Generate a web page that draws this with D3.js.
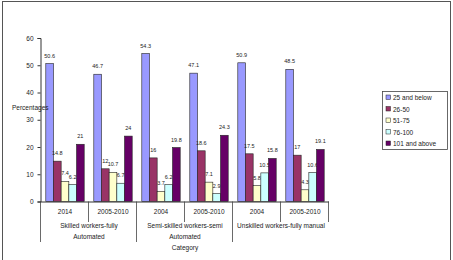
<!DOCTYPE html>
<html>
<head>
<meta charset="utf-8">
<script src="https://cdn.jsdelivr.net/npm/d3@7/dist/d3.min.js"></script>
<style>
  body { margin: 0; background: #fff; }
  text { font-family: "Liberation Sans", Arial, sans-serif; fill: #222; }
</style>
</head>
<body>
<div class="chart"></div>
<script>
var svgWidth = 453;
var svgHeight = 260;

// categories: year rows and the group rows below them
var years = ["2014", "2005-2010", "2004", "2005-2010", "2004", "2005-2010"];
var groups = [["Skilled workers-fully", "Automated"], ["Semi-skilled workers-semi", "Automated"], ["Unskilled workers-fully manual"]];
var seriesNames = ["25 and below", "26-50", "51-75", "76-100", "101 and above"];
var seriesColors = ["#9999ff", "#993366", "#ffffcc", "#ccffff", "#660066"];

// one list per series, one value per category
var below25 = [50.6, 46.7, 54.3, 47.1, 50.9, 48.5];
var from26to50 = [14.8, 12, 16, 18.6, 17.5, 17];
var from51to75 = [7.4, 10.7, 3.7, 7.1, 5.8, 4.3];
var from76to100 = [6.2, 6.7, 6.2, 2.9, 10.5, 10.6];
var above101 = [21, 24, 19.8, 24.3, 15.8, 19.1];
var yTicks = [0, 10, 20, 30, 40, 50, 60];

var series = [below25, from26to50, from51to75, from76to100, above101];

var svg = d3.select(".chart")
  .append("svg")
  .attr("width", svgWidth)
  .attr("height", svgHeight);

// outer frame
svg.append("rect")
  .attr("x", 2.5).attr("y", 1.5)
  .attr("width", 448).attr("height", 262)
  .attr("fill", "none")
  .attr("stroke", "#555")
  .attr("stroke-width", 1);

var plotLeft = 41, plotRight = 329;
var y = d3.scaleLinear().domain([0, 60]).range([201.5, 38]);
var x0 = d3.scaleBand().domain(d3.range(years.length)).range([plotLeft, plotRight]).paddingInner(0.2).paddingOuter(0.1);
var x1 = d3.scaleBand().domain(d3.range(series.length)).range([0, x0.bandwidth()]);
var slot = (plotRight - plotLeft) / years.length;

// y axis
var leftAxis = d3.axisLeft(y).tickValues(yTicks).tickSize(3).tickPadding(4);
var yAxisG = svg.append("g")
  .attr("transform", "translate(" + (plotLeft - 0.5) + ",0)")
  .call(leftAxis);
yAxisG.select(".domain").attr("stroke", "#333");
yAxisG.selectAll(".tick line").attr("stroke", "#333");
yAxisG.selectAll(".tick text").attr("font-size", 6.5).attr("fill", "#222");

// bars
var barGroups = svg.selectAll(".cat")
  .data(years)
  .enter()
  .append("g")
  .attr("class", "cat")
  .attr("transform", function(d, i) { return "translate(" + x0(i) + ",0)"; });

barGroups.each(function(d, i) {
  var g = d3.select(this);
  series.forEach(function(vals, s) {
    g.append("rect")
      .attr("x", x1(s))
      .attr("y", y(vals[i]))
      .attr("width", x1.bandwidth())
      .attr("height", y(0) - y(vals[i]))
      .attr("fill", seriesColors[s])
      .attr("stroke", "#222")
      .attr("stroke-width", 0.6);
    g.append("text")
      .attr("x", x1(s) + x1.bandwidth() / 2)
      .attr("y", y(vals[i]) - 6)
      .attr("text-anchor", "middle")
      .attr("font-size", 5.5)
      .text(vals[i]);
  });
});

// category axis line
svg.append("line")
  .attr("x1", plotLeft - 0.5).attr("x2", plotRight)
  .attr("y1", y(0) + 0.5).attr("y2", y(0) + 0.5)
  .attr("stroke", "#333");

// separators: short between years, long between groups
d3.range(years.length + 1).forEach(function(i) {
  var xx = Math.round(plotLeft + i * slot) - 0.5;
  var long = (i % 2 === 0) && i < years.length;
  svg.append("line")
    .attr("x1", xx).attr("x2", xx)
    .attr("y1", y(0)).attr("y2", long ? 242 : 222)
    .attr("stroke", "#444").attr("stroke-width", 0.8);
});

// year labels
svg.selectAll(".yr")
  .data(years)
  .enter()
  .append("text")
  .attr("x", function(d, i) { return plotLeft + (i + 0.5) * slot; })
  .attr("y", 214)
  .attr("text-anchor", "middle")
  .attr("font-size", 6.5)
  .text(function(d) { return d; });

// group labels
groups.forEach(function(lines, gi) {
  lines.forEach(function(line, li) {
    svg.append("text")
      .attr("x", plotLeft + (gi * 2 + 1) * slot)
      .attr("y", 228 + li * 11)
      .attr("text-anchor", "middle")
      .attr("font-size", 6.5)
      .text(line);
  });
});

// axis titles
svg.append("text")
  .attr("x", (plotLeft + plotRight) / 2)
  .attr("y", 250)
  .attr("text-anchor", "middle")
  .attr("font-size", 6.5)
  .text("Category");

svg.append("text")
  .attr("x", 12)
  .attr("y", 110)
  .attr("font-size", 6.5)
  .text("Percentages");

// legend
var legend = svg.append("g").attr("transform", "translate(382,91)");
legend.append("rect")
  .attr("x", 0.5).attr("y", 0.5)
  .attr("width", 65).attr("height", 58)
  .attr("fill", "#fff")
  .attr("stroke", "#444")
  .attr("stroke-width", 0.8);
seriesNames.forEach(function(name, s) {
  legend.append("rect")
    .attr("x", 4).attr("y", 4 + s * 11.5)
    .attr("width", 4.5).attr("height", 4.5)
    .attr("fill", seriesColors[s])
    .attr("stroke", "#222").attr("stroke-width", 0.5);
  legend.append("text")
    .attr("x", 11).attr("y", 9 + s * 11.5)
    .attr("font-size", 6.5)
    .text(name);
});
</script>
</body>
</html>
